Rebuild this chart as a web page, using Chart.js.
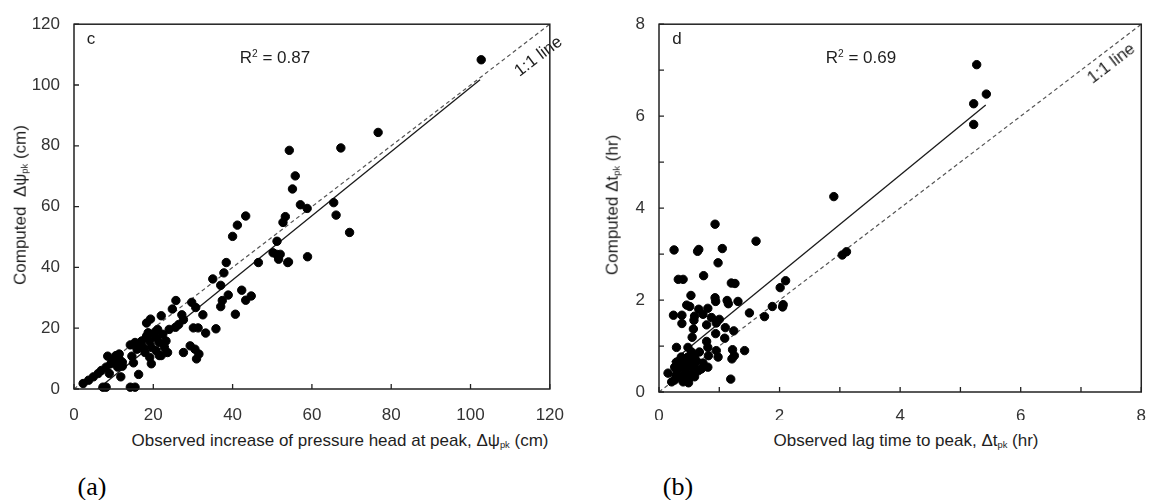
<!DOCTYPE html>
<html lang="en">
<head>
<meta charset="UTF-8">
<title>Observed vs computed peak response</title>
<script src="https://cdn.jsdelivr.net/npm/chart.js"></script>
<style>
  body { margin: 0; background: #fff; }
  #wrap { position: relative; width: 1150px; height: 500px; overflow: hidden;
          font-family: Arial, "Liberation Sans", sans-serif; color: #1e1e1e; }
  .panel { position: absolute; top: 0; width: 580px; height: 420px; }
  .t { position: absolute; white-space: nowrap; font-size: 17px; line-height: 1;
       transform: translate(-50%, -50%); }
  .rot { transform: translate(-50%, -50%) rotate(-90deg); }
  .tag { font-family: "Liberation Serif", "Times New Roman", serif; font-size: 26px; color: #000; }
  sub { font-size: 55%; vertical-align: -0.25em; color: #1e1e1e; }
  sup { font-size: 60%; vertical-align: 0.55em; }
</style>
</head>
<body>
<div id="wrap">
  <div class="panel" style="left:0"><canvas id="headChart"></canvas></div>
  <div class="panel" style="left:580px"><canvas id="lagChart"></canvas></div>

  <!-- panel c -->
  <span class="t" style="left:91px; top:38px">c</span>
  <span class="t" style="left:275px; top:57px">R<sup>2</sup> = 0.87</span>
  <span class="t" style="left:538px; top:56px; transform: translate(-50%,-50%) rotate(-37deg)">1:1 line</span>
  <span class="t rot" style="left:21px; top:205px">Computed &nbsp;Δψ<sub>pk</sub> (cm)</span>
  <span class="t" style="left:340px; top:441px">Observed increase of pressure head at peak, Δψ<sub>pk</sub> (cm)</span>
  <span class="t tag" style="left:92px; top:487px">(a)</span>

  <!-- panel d -->
  <span class="t" style="left:677px; top:38px">d</span>
  <span class="t" style="left:861px; top:57px">R<sup>2</sup> = 0.69</span>
  <span class="t" style="left:1111px; top:63px; transform: translate(-50%,-50%) rotate(-37.5deg)">1:1 line</span>
  <span class="t rot" style="left:613px; top:205px">Computed Δt<sub>pk</sub> (hr)</span>
  <span class="t" style="left:906px; top:441px">Observed lag time to peak, Δt<sub>pk</sub> (hr)</span>
  <span class="t tag" style="left:678px; top:487px">(b)</span>
</div>

<script>
// c: increase of pressure head at peak (cm)
const obsHead = [2.3, 3.7, 4.9, 6.1, 6.9, 7.3, 8.1, 8.1, 8.5, 9.3, 9.6, 10.2, 10.6, 11.0, 11.0, 11.4, 11.8, 11.8,
  12.2, 12.2, 11.4, 8.9, 14.2, 15.4, 16.3, 14.6, 15.0, 14.2, 15.4, 15.9, 16.3, 17.1, 17.5, 17.9, 18.3, 18.7,
  18.3, 19.3, 18.7, 19.1, 19.5, 19.5, 19.1, 20.3, 20.7, 20.7, 21.1, 21.5, 21.5, 22.0, 22.0, 22.4, 22.8, 23.2,
  23.6, 24.0, 24.8, 25.7, 25.6, 26.4, 27.2, 27.6, 27.6, 29.3, 29.7, 30.1, 30.5, 30.7, 30.9, 31.3, 31.5, 32.5,
  33.2, 35.0, 35.8, 37.0, 37.0, 37.4, 37.8, 38.4, 38.9, 40.0, 40.7, 41.2, 42.3, 43.3, 43.3, 44.7, 46.5, 50.2,
  51.2, 51.6, 52.0, 52.7, 53.3, 54.1, 53.9, 51.1, 58.9, 54.3, 55.8, 55.1, 57.1, 58.8, 65.5, 66.1, 67.3, 69.5,
  76.7, 102.7];
const compHead = [1.8, 2.9, 4.0, 5.1, 6.1, 0.6, 0.6, 7.2, 10.8, 8.3, 9.6, 9.4, 11.0, 7.2, 10.2, 9.9, 8.3, 4.0,
  8.8, 7.5, 11.5, 5.1, 0.6, 0.6, 4.8, 10.8, 8.6, 14.5, 15.3, 13.1, 14.2, 15.8, 13.7, 12.0, 17.4, 18.5,
  21.7, 23.0, 17.4, 15.8, 13.7, 8.3, 10.4, 18.5, 16.9, 12.6, 19.6, 15.3, 11.0, 11.0, 24.1, 18.0, 13.7, 15.8,
  12.0, 19.6, 26.3, 29.1, 20.3, 21.2, 24.4, 22.8, 12.0, 14.2, 28.5, 20.1, 13.1, 26.8, 9.9, 20.1, 11.5, 24.4,
  18.4, 36.2, 19.8, 34.1, 27.1, 29.1, 38.2, 41.6, 30.9, 50.2, 24.6, 53.9, 32.5, 56.9, 29.2, 30.6, 41.6, 44.8,
  48.6, 42.7, 44.3, 54.8, 56.7, 41.8, 41.6, 44.3, 43.5, 78.5, 70.1, 65.8, 60.6, 59.4, 61.3, 57.2, 79.3, 51.5,
  84.4, 108.3];
const fitHead = [[6, 0], [102.4, 101.7]];
const lineHead = [[0, 0], [120, 120]];
const headTicks = [0, 20, 40, 60, 80, 100, 120];

// d: lag time to peak (hr)
const obsLag = [0.93, 1.61, 0.25, 0.64, 0.66, 1.05, 0.98, 0.32, 0.40, 0.74, 1.20, 1.26, 0.53, 0.93, 0.94, 1.13,
  1.15, 1.31, 0.46, 0.51, 0.24, 0.38, 0.59, 0.66, 0.81, 0.73, 0.87, 1.00, 0.38, 0.58, 0.79, 0.95, 0.57, 1.10,
  1.24, 1.50, 1.75, 1.88, 2.05, 2.06, 2.01, 2.10, 3.04, 3.11, 0.55, 0.94, 1.09, 0.79, 1.22, 1.42, 1.25, 1.21,
  1.19, 0.29, 0.48, 0.81, 0.95, 0.82, 0.98, 0.81, 0.65, 0.73, 0.15, 0.21, 0.32, 0.37, 0.43, 0.49, 0.54, 0.59,
  0.48, 0.37, 0.29, 0.26, 0.59, 0.67, 0.54, 0.43, 0.26, 0.59, 0.40, 0.30, 0.35, 0.45, 0.50, 0.55, 0.62, 0.70,
  0.42, 0.28, 0.50, 2.90, 5.27, 5.43, 5.22, 5.22];
const compLag = [3.65, 3.28, 3.09, 3.06, 3.10, 3.12, 2.81, 2.45, 2.45, 2.53, 2.37, 2.36, 2.10, 2.05, 1.97, 1.99,
  1.92, 1.97, 1.89, 1.86, 1.67, 1.67, 1.65, 1.80, 1.82, 1.69, 1.62, 1.58, 1.49, 1.56, 1.46, 1.50, 1.37, 1.40,
  1.33, 1.72, 1.64, 1.86, 1.85, 1.90, 2.27, 2.42, 2.98, 3.05, 1.19, 1.27, 1.17, 1.10, 0.92, 0.90, 0.79, 0.72,
  0.28, 0.97, 0.97, 0.97, 0.90, 0.79, 0.76, 0.54, 0.46, 0.63, 0.41, 0.22, 0.33, 0.54, 0.40, 0.20, 0.40, 0.58,
  0.76, 0.76, 0.65, 0.54, 0.76, 0.87, 0.87, 0.62, 0.26, 0.33, 0.22, 0.45, 0.60, 0.50, 0.70, 0.55, 0.68, 0.50,
  0.30, 0.35, 0.30, 4.25, 7.12, 6.48, 6.27, 5.82];
const fitLag = [[0.21, 0.65], [5.42, 6.24]];
const lineLag = [[0, 0], [8, 8]];
const lagTicks = [0, 2, 4, 6, 8];

const toPts = (xs, ys) => xs.map((x, i) => ({ x: x, y: ys[i] }));
const toXY = pairs => pairs.map(p => ({ x: p[0], y: p[1] }));

// box around the plot area plus short inward tick marks
const framePlugin = {
  id: 'frame',
  afterDraw(chart) {
    const { ctx, chartArea: a, scales } = chart;
    ctx.save();
    ctx.strokeStyle = '#222';
    ctx.lineWidth = 1.5;
    ctx.strokeRect(a.left, a.top, a.right - a.left, a.bottom - a.top);
    ctx.lineWidth = 1.3;
    ctx.beginPath();
    scales.x.ticks.forEach(t => {
      const px = scales.x.getPixelForValue(t.value);
      ctx.moveTo(px, a.bottom);
      ctx.lineTo(px, a.bottom - 5);
    });
    scales.y.ticks.forEach(t => {
      const py = scales.y.getPixelForValue(t.value);
      ctx.moveTo(a.left, py);
      ctx.lineTo(a.left + 5, py);
    });
    ctx.stroke();
    ctx.restore();
  }
};

function makeChart(id, pts, fit, oneToOne, max, step, labels, box) {
  const axis = (size, pad) => ({
    type: 'linear', min: 0, max: max,
    grid: { display: false, drawTicks: false },
    border: { display: false },
    ticks: {
      stepSize: step, padding: pad, color: '#333',
      font: { family: 'Arial, "Liberation Sans", sans-serif', size: 17 },
      callback: v => labels.includes(v) ? String(v) : ''
    },
    afterFit(scale) {
      if (scale.isHorizontal()) scale.height = size; else scale.width = size;
    }
  });
  return new Chart(document.getElementById(id), {
    type: 'scatter',
    data: {
      datasets: [
        { data: pts, backgroundColor: '#000', borderColor: '#000', pointRadius: 4.2, pointHoverRadius: 4.2, clip: false },
        { type: 'line', data: fit, borderColor: '#1a1a1a', borderWidth: 1.3, pointRadius: 0, fill: false },
        { type: 'line', data: oneToOne, borderColor: '#555', borderWidth: 1.2, borderDash: [4, 3], pointRadius: 0, fill: false }
      ]
    },
    options: {
      responsive: false, animation: false, maintainAspectRatio: false,
      layout: { padding: { top: box.top, right: box.right, left: 0, bottom: 0 } },
      plugins: { legend: { display: false }, tooltip: { enabled: false } },
      scales: { x: axis(box.xh, box.xpad), y: axis(box.yw, 14) }
    },
    plugins: [framePlugin]
  });
}

function sizeCanvas(id) {
  const c = document.getElementById(id);
  c.width = 580; c.height = 420;
  c.style.width = '580px'; c.style.height = '420px';
}
sizeCanvas('headChart');
sizeCanvas('lagChart');

makeChart('headChart', toPts(obsHead, compHead), toXY(fitHead), toXY(lineHead), 120, 20, headTicks,
  { top: 17, right: 14, yw: 74, xh: 31, xpad: 16 });
makeChart('lagChart', toPts(obsLag, compLag), toXY(fitLag), toXY(lineLag), 8, 1, lagTicks,
  { top: 19, right: 16, yw: 79, xh: 28, xpad: 14 });
</script>
</body>
</html>
